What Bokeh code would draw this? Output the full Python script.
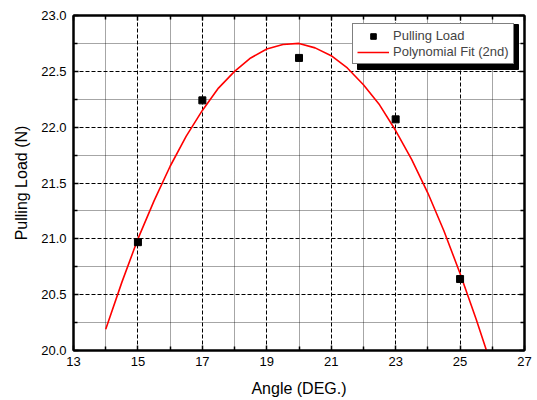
from bokeh.plotting import figure
from bokeh.models import LinearAxis, Legend, LegendItem, Range1d, FixedTicker, NumeralTickFormatter
from bokeh.embed import file_html
from bokeh.resources import INLINE

angle = [15, 17, 20, 23, 25]
load = [20.97, 22.24, 22.62, 22.07, 20.64]

fit_x = [14, 14.5, 15, 15.5, 16, 16.5, 17, 17.5, 18, 18.5, 19, 19.5, 20, 20.5,
         21, 21.5, 22, 22.5, 23, 23.5, 24, 24.5, 25, 25.5, 25.82]
fit_y = [20.19, 20.61, 21.00, 21.34, 21.65, 21.92, 22.15, 22.35, 22.50, 22.62,
         22.70, 22.74, 22.75, 22.71, 22.64, 22.53, 22.38, 22.20, 21.97, 21.71,
         21.41, 21.07, 20.69, 20.28, 20.00]

x_major = [13, 15, 17, 19, 21, 23, 25, 27]
x_minor = [14, 16, 18, 20, 22, 24, 26]
y_major = [20.0, 20.5, 21.0, 21.5, 22.0, 22.5, 23.0]
y_minor = [20.25, 20.75, 21.25, 21.75, 22.25, 22.75]

FONT = "Liberation Sans"
FW, FH = 451, 335
XR, YR = (13, 27), (20.0, 23.0)

p = figure(frame_width=FW, frame_height=FH, output_backend="svg", toolbar_location=None,
           x_range=Range1d(*XR), y_range=Range1d(*YR),
           min_border_left=73, min_border_top=15, min_border_right=13, min_border_bottom=50)
p.background_fill_color = "white"
p.border_fill_color = "white"
p.outline_line_color = "black"
p.outline_line_width = 2

# legend box in frame pixels (from left / from top), as Bokeh sizes it
LG_L, LG_T, LG_W, LG_H = 279, 4, 161, 45
SH = 5


def px2x(px):
    return XR[0] + px / FW * (XR[1] - XR[0])


def py2y(py):
    return YR[1] - py / FH * (YR[1] - YR[0])


sh_l = [px2x(LG_L + SH)]
sh_r = [px2x(LG_L + LG_W + SH)]
sh_t = [py2y(LG_T + SH)]
sh_b = [py2y(LG_T + LG_H + SH)]
p.quad(left=sh_l, right=sh_r, top=sh_t, bottom=sh_b,
       fill_color="black", line_color="black")

r_fit = p.line(fit_x, fit_y, line_color="red", line_width=1.6)
r_pts = p.scatter(angle, load, marker="square", size=7, color="black")

xt = FixedTicker(ticks=x_major, minor_ticks=x_minor)
yt = FixedTicker(ticks=y_major, minor_ticks=y_minor)

for ax in [p.xaxis[0], p.yaxis[0]]:
    ax.major_tick_in = 5
    ax.major_tick_out = 0
    ax.minor_tick_in = 4
    ax.minor_tick_out = 0
    ax.axis_line_width = 2
    ax.major_tick_line_width = 1.5
    ax.minor_tick_line_width = 1.5
    ax.major_label_text_font = FONT
    ax.major_label_text_font_size = "13px"
    ax.major_label_text_color = "black"
    ax.axis_label_text_font = FONT
    ax.axis_label_text_font_size = "16px"
    ax.axis_label_text_font_style = "normal"
    ax.axis_label_text_color = "black"

p.xaxis[0].ticker = xt
p.yaxis[0].ticker = yt
p.yaxis[0].formatter = NumeralTickFormatter(format="0.0")
p.xaxis[0].axis_label = "Angle (DEG.)"
p.yaxis[0].axis_label = "Pulling Load (N)"
p.xaxis[0].major_label_standoff = 6
p.yaxis[0].major_label_standoff = 7
p.xaxis[0].axis_label_standoff = 11
p.yaxis[0].axis_label_standoff = 8

top = LinearAxis(ticker=FixedTicker(ticks=x_major, minor_ticks=x_minor),
                 major_label_overrides={v: "" for v in x_major})
right = LinearAxis(ticker=FixedTicker(ticks=y_major, minor_ticks=y_minor),
                   major_label_overrides={v: "" for v in y_major})
for ax in [top, right]:
    ax.major_tick_in = 5
    ax.major_tick_out = 0
    ax.minor_tick_in = 4
    ax.minor_tick_out = 0
    ax.axis_line_width = 2
    ax.major_tick_line_width = 1.5
    ax.minor_tick_line_width = 1.5
    ax.major_label_text_font_size = "13px"
    ax.major_label_standoff = 0
p.add_layout(top, "above")
p.add_layout(right, "right")

for g in [p.xgrid[0], p.ygrid[0]]:
    g.grid_line_color = "black"
    g.grid_line_dash = "4 2"
    g.grid_line_width = 1
    g.minor_grid_line_color = "black"
    g.minor_grid_line_dash = "1 1"
    g.minor_grid_line_width = 1
    g.minor_grid_line_alpha = 0.7
p.xgrid[0].ticker = xt
p.ygrid[0].ticker = yt

legend = Legend(items=[LegendItem(label="Pulling Load", renderers=[r_pts]),
                       LegendItem(label="Polynomial Fit (2nd)", renderers=[r_fit])],
                location=(LG_L, FH - LG_T - LG_H))
legend.label_text_font = FONT
legend.label_text_font_size = "13px"
legend.label_height = 14
legend.glyph_height = 14
legend.glyph_width = 32
legend.spacing = 1
legend.padding = 4
legend.margin = 0
legend.border_line_color = "black"
legend.border_line_width = 1
legend.background_fill_alpha = 1
legend.label_standoff = 4
p.add_layout(legend, "center")

open("out.html", "w").write(file_html(p, INLINE))
